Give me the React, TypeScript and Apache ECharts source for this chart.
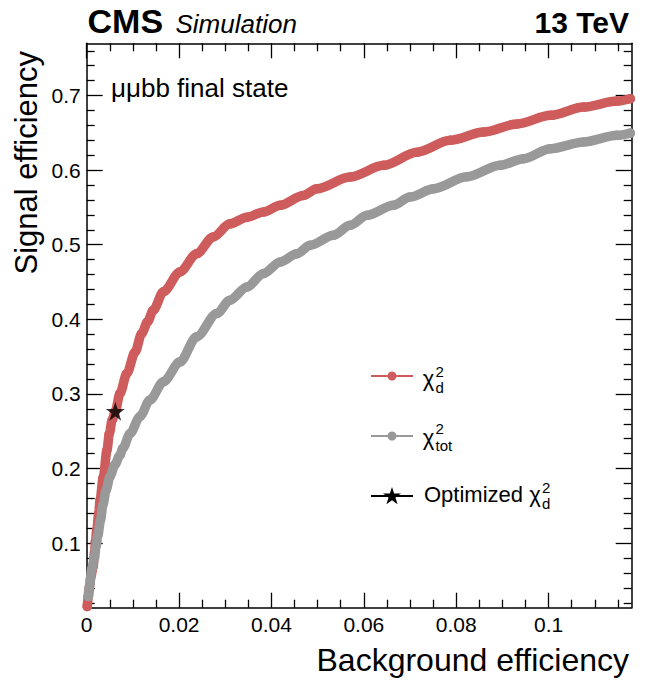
import React, { useEffect, useRef } from "react";
import * as echarts from "echarts";

// ---- data ----
const CHI_D: [number, number][] = [
  [0.0001, 0.0151], [0.0004, 0.0295], [0.0006, 0.042], [0.0009, 0.0553], [0.0014, 0.0687],
  [0.0017, 0.088], [0.0019, 0.103], [0.0022, 0.118], [0.0026, 0.14], [0.0029, 0.158],
  [0.0036, 0.189], [0.0044, 0.225], [0.0049, 0.247], [0.0055, 0.265], [0.0062, 0.277],
  [0.0072, 0.3008], [0.0087, 0.3276], [0.0105, 0.3565], [0.0119, 0.381], [0.0132, 0.397],
  [0.0144, 0.4123], [0.0166, 0.437], [0.0202, 0.4636], [0.0238, 0.488], [0.0274, 0.5105],
  [0.031, 0.528], [0.0347, 0.537], [0.0383, 0.544], [0.0419, 0.553], [0.0469, 0.566],
  [0.0498, 0.575], [0.057, 0.5908], [0.0643, 0.6064], [0.0715, 0.624], [0.0787, 0.64],
  [0.0859, 0.651], [0.0932, 0.662], [0.1004, 0.6734], [0.1076, 0.6845], [0.1148, 0.6925],
  [0.1177, 0.6957],
];
const CHI_TOT: [number, number][] = [
  [0.0003, 0.0285], [0.0006, 0.041], [0.0011, 0.0656], [0.0017, 0.0807], [0.002, 0.0955],
  [0.0024, 0.1098], [0.003, 0.131], [0.0035, 0.151], [0.0042, 0.171], [0.005, 0.189],
  [0.0061, 0.205], [0.0072, 0.218], [0.0078, 0.227], [0.0094, 0.247], [0.0115, 0.2695],
  [0.0137, 0.292], [0.0166, 0.3163], [0.0202, 0.343], [0.0238, 0.3766], [0.0282, 0.408],
  [0.031, 0.4257], [0.0347, 0.4435], [0.0383, 0.4614], [0.0419, 0.477], [0.0455, 0.488],
  [0.0484, 0.4993], [0.0534, 0.5127], [0.057, 0.526], [0.0607, 0.5395], [0.0664, 0.5529],
  [0.07, 0.564], [0.0751, 0.575], [0.0823, 0.591], [0.0895, 0.6064], [0.0946, 0.6154],
  [0.1004, 0.6288], [0.1076, 0.6377], [0.1148, 0.6466], [0.1177, 0.6497],
];
const OPTIMIZED: [number, number][] = [[0.0062, 0.2768]];

const X_MAJOR = [0, 0.02, 0.04, 0.06, 0.08, 0.1];
const X_MINOR = [0.005, 0.01, 0.015, 0.025, 0.03, 0.035, 0.045, 0.05, 0.055, 0.065, 0.07, 0.075,
  0.085, 0.09, 0.095, 0.105, 0.11, 0.115];
const Y_MAJOR = [0.1, 0.2, 0.3, 0.4, 0.5, 0.6, 0.7];
const Y_MINOR = [0.02, 0.04, 0.06, 0.08, 0.12, 0.14, 0.16, 0.18, 0.22, 0.24, 0.26, 0.28,
  0.32, 0.34, 0.36, 0.38, 0.42, 0.44, 0.46, 0.48, 0.52, 0.54, 0.56, 0.58, 0.62, 0.64, 0.66,
  0.68, 0.72, 0.74, 0.76];

const X_MIN = 0;
const X_MAX = 0.118;
const Y_MIN = 0.0135;
const Y_MAX = 0.77;

const RED = "#cf5c5c";
const GRAY = "#999999";
const FONT = "'Liberation Sans', Arial, Helvetica, sans-serif";

function starPoints(cx: number, cy: number, R: number): number[][] {
  const pts: number[][] = [];
  const r = R * 0.382;
  for (let i = 0; i < 10; i++) {
    const a = -Math.PI / 2 + (i * Math.PI) / 5;
    const rr = i % 2 === 0 ? R : r;
    pts.push([cx + rr * Math.cos(a), cy + rr * Math.sin(a)]);
  }
  return pts;
}
function starPath(): string {
  const p = starPoints(50, 52, 50);
  return "path://M" + p.map((q) => q[0].toFixed(2) + "," + q[1].toFixed(2)).join(" L") + " Z";
}

function axisPair(kind: "x" | "y", position: string, major: number[], minor: number[], labels: boolean, majorLen: number, minorLen: number) {
  const range = kind === "x" ? { min: X_MIN, max: X_MAX } : { min: Y_MIN, max: Y_MAX };
  const base = {
    type: "value",
    position,
    ...range,
    splitLine: { show: false },
    axisPointer: { show: false },
  };
  return [
    {
      ...base,
      axisLine: { show: true, onZero: false, lineStyle: { color: "#000", width: 1.5 } },
      axisTick: { show: true, inside: true, length: majorLen, customValues: major, lineStyle: { color: "#000", width: 1.3 } },
      axisLabel: labels
        ? { show: true, customValues: major, margin: 6, fontSize: 21, fontFamily: FONT, color: "#000", formatter: (v: number) => String(v) }
        : { show: false },
    },
    {
      ...base,
      axisLine: { show: false, onZero: false },
      axisTick: { show: true, inside: true, length: minorLen, customValues: minor, lineStyle: { color: "#000", width: 1.3 } },
      axisLabel: { show: false },
    },
  ];
}

function txt(x: number, y: number, text: string, font: string, align = "left", extra: any = {}) {
  return {
    type: "text",
    x,
    y,
    silent: true,
    ...extra,
    style: { text, fill: "#000", font, align, verticalAlign: "middle" },
  };
}

export default function App() {
  const ref = useRef<HTMLDivElement>(null);
  useEffect(() => {
    if (!ref.current) return;
    const chart = echarts.init(ref.current, null, { renderer: "svg" });
    const f = (s: number, w = "normal", st = "normal") => `${st} ${w} ${s}px ${FONT}`;
    const curve = (name: string, data: [number, number][], color: string, z: number) => ({
      name,
      type: "line",
      data,
      xAxisIndex: 0,
      yAxisIndex: 0,
      symbol: "circle",
      symbolSize: 9.5,
      showSymbol: true,
      smooth: 0.3,
      smoothMonotone: "x",
      color,
      itemStyle: { color },
      lineStyle: { color, width: 9.5, cap: "round", join: "round" },
      z,
    });
    const option: any = {
      animation: false,
      backgroundColor: "#fff",
      grid: { left: 86.7, right: 16.3, top: 43.3, bottom: 75.3, containLabel: false },
      xAxis: [
        ...axisPair("x", "bottom", X_MAJOR, X_MINOR, true, 15, 8),
        ...axisPair("x", "top", X_MAJOR, X_MINOR, false, 15, 8),
      ],
      yAxis: [
        ...axisPair("y", "left", Y_MAJOR, Y_MINOR, true, 16, 8),
        ...axisPair("y", "right", Y_MAJOR, Y_MINOR, false, 16, 8),
      ],
      series: [
        curve("chi2_d", CHI_D, RED, 2),
        curve("chi2_tot", CHI_TOT, GRAY, 3),
        {
          name: "Optimized",
          type: "scatter",
          data: OPTIMIZED,
          xAxisIndex: 0,
          yAxisIndex: 0,
          symbol: starPath(),
          symbolSize: 19,
          itemStyle: { color: "#000" },
          z: 4,
        },
      ],
      graphic: [
        txt(87.5, 21, "CMS", f(34, "bold")),
        txt(175.5, 24, "Simulation", f(26, "normal", "italic")),
        txt(629, 22, "13 TeV", f(30, "bold"), "right"),
        txt(111, 87.7, "μμbb final state", f(26)),
        txt(629, 660, "Background efficiency", f(32), "right"),
        txt(26, 51, "Signal efficiency", f(31), "right", { rotation: Math.PI / 2 }),
        // legend entry 1
        { type: "line", silent: true, shape: { x1: 371, y1: 376, x2: 413, y2: 376 }, style: { stroke: RED, lineWidth: 2 } },
        { type: "circle", silent: true, shape: { cx: 392, cy: 376, r: 4.5 }, style: { fill: RED } },
        txt(422.7, 378, "χ", f(22)),
        txt(435.5, 371.5, "2", f(15)),
        txt(435.5, 387, "d", f(15)),
        // legend entry 2
        { type: "line", silent: true, shape: { x1: 371, y1: 436, x2: 413, y2: 436 }, style: { stroke: GRAY, lineWidth: 2 } },
        { type: "circle", silent: true, shape: { cx: 392, cy: 436, r: 4.5 }, style: { fill: GRAY } },
        txt(422.7, 437.7, "χ", f(22)),
        txt(435.5, 428, "2", f(15)),
        txt(435.5, 445.5, "tot", f(15)),
        // legend entry 3
        { type: "line", silent: true, shape: { x1: 371, y1: 496, x2: 413, y2: 496 }, style: { stroke: "#000", lineWidth: 2 } },
        { type: "polygon", silent: true, shape: { points: starPoints(392, 496.5, 9.5) }, style: { fill: "#000" } },
        txt(424, 494, "Optimized χ", f(22)),
        txt(542, 487.5, "2", f(15)),
        txt(542, 503, "d", f(15)),
      ],
    };
    chart.setOption(option);
    return () => chart.dispose();
  }, []);
  return (
    <div
      ref={ref}
      style={{ position: "fixed", left: 0, top: 0, width: 648, height: 683, background: "#fff" }}
    />
  );
}
